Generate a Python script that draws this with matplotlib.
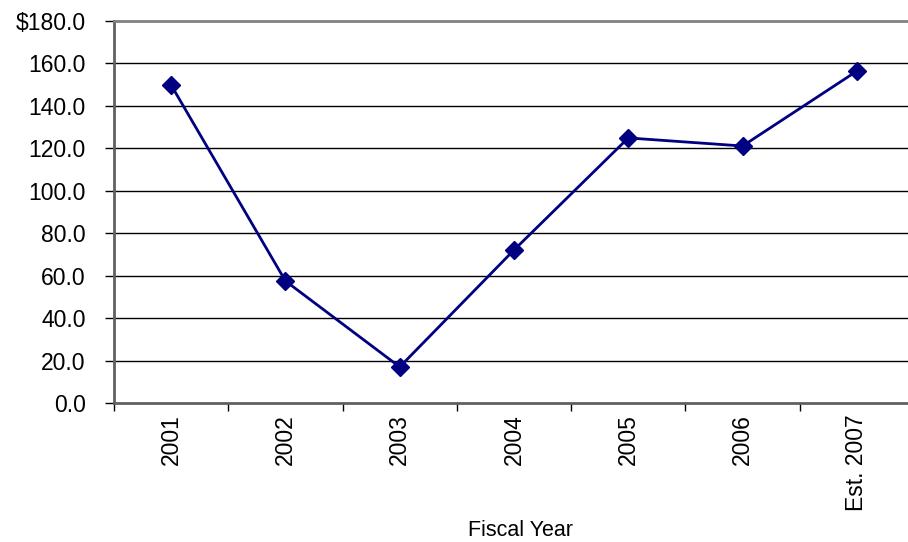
import matplotlib.pyplot as plt

plt.rcParams['font.family'] = ['Liberation Sans', 'DejaVu Sans']

# Données
annees = ["2001", "2002", "2003", "2004", "2005", "2006", "Est. 2007"]
valeurs = [149.8, 57.5, 17.0, 72.1, 124.9, 121.1, 156.4]
graduations = [0, 20, 40, 60, 80, 100, 120, 140, 160, 180]
etiquettes_y = ["0.0", "20.0", "40.0", "60.0", "80.0", "100.0", "120.0", "140.0", "160.0", "$180.0"]

fig = plt.figure(figsize=(9.08, 5.42), dpi=100)
# zone de tracé : gauche 114px, haut 21px, bas 403px, droite au-delà du bord
ax = fig.add_axes([114 / 908, 1 - 403 / 542, 800 / 908, 382 / 542])

x = list(range(len(annees)))
ax.plot(x, valeurs, color='#000080', linewidth=2, marker='D', markersize=9.5,
        markerfacecolor='#000080', markeredgecolor='#000080', zorder=3)

ax.set_xlim(-0.5, len(annees) - 0.5)
ax.set_ylim(0, 180)

ax.set_yticks(graduations)
ax.set_yticklabels(etiquettes_y, fontsize=16.5)
for g in graduations[1:-1]:
    ax.axhline(g, color='black', linewidth=1, zorder=1)

# ticks entre les catégories
ax.set_xticks([i - 0.5 for i in range(len(annees))], minor=False)
ax.set_xticklabels([])
ax.set_xticks(x, minor=True)
ax.set_xticklabels(annees, minor=True, rotation=90, fontsize=16.5, va='top')
ax.tick_params(axis='x', which='minor', length=0, pad=8)
ax.tick_params(axis='x', which='major', length=6, width=1, direction='out', color='black')
ax.tick_params(axis='y', length=6.5, width=1, direction='out', color='black', pad=14)

ax.spines['right'].set_visible(False)
ax.spines['top'].set_color('#808080')
ax.spines['top'].set_linewidth(2)
ax.spines['left'].set_color('#606060')
ax.spines['left'].set_linewidth(2)
ax.spines['bottom'].set_color('#606060')
ax.spines['bottom'].set_linewidth(2)

fig.text(520 / 908, 1 - 530 / 542, "Fiscal Year", fontsize=15.5, ha='center', va='center')

fig.savefig("out.png", dpi=100)
